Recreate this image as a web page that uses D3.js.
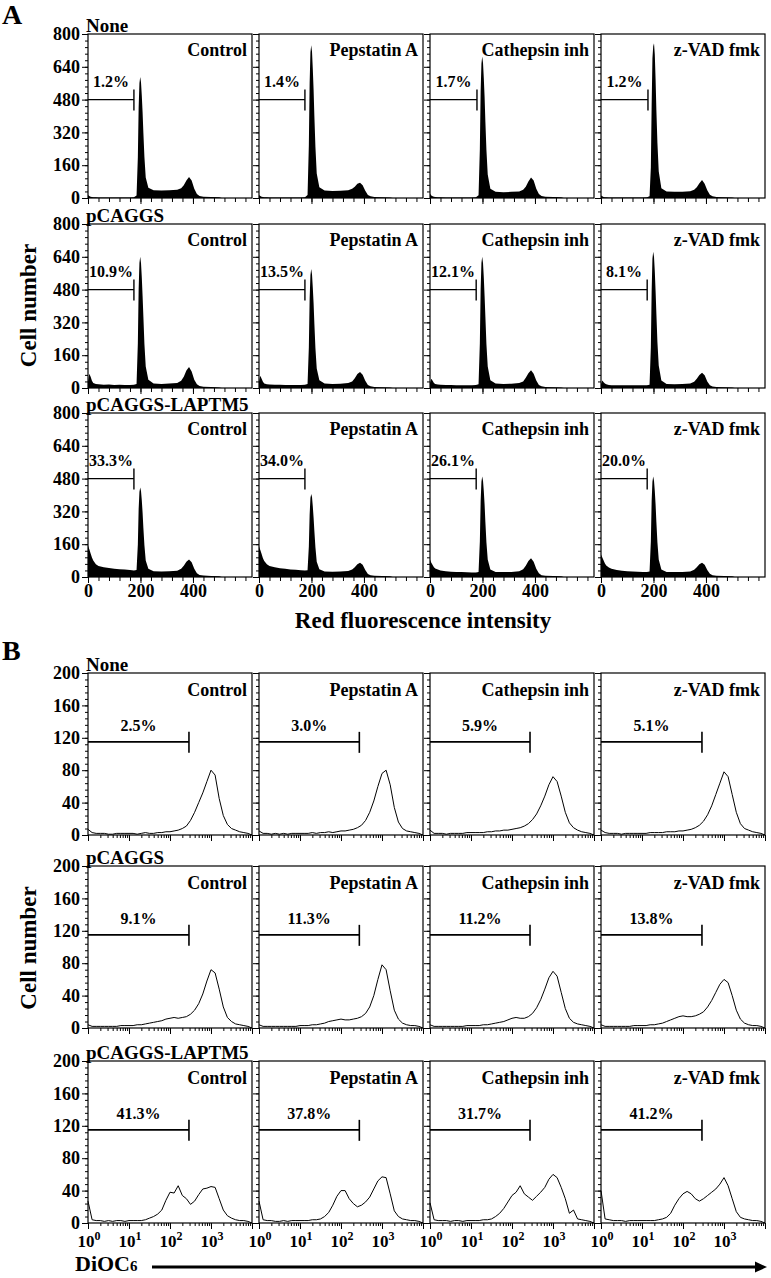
<!DOCTYPE html>
<html><head><meta charset="utf-8">
<script src="https://cdn.jsdelivr.net/npm/d3@7"></script>
<style>
body{margin:0;background:#fff}
svg text{font-family:"Liberation Serif","Times New Roman",serif;font-weight:bold;fill:#000}
</style>
</head><body><script>
// ---------- DATA ----------
const conditions = ["None", "pCAGGS", "pCAGGS-LAPTM5"];
const treatments = ["Control", "Pepstatin A", "Cathepsin inh", "z-VAD fmk"];

// Panel A: cell-cycle (red fluorescence intensity) histograms
const redIntensity = [0,5,10,15,20,30,40,60,80,100,120,140,160,175,185,190,193,196,199,202,205,208,211,215,220,230,250,280,310,340,355,365,375,385,395,405,415,425,440,470,500,510,540,600];
const cellCountNone = [
  [15,10,6,5,4,4,3,3,3,3,3,3,3,4, 12,200,440,560,590,565,500,420,320,200,100,50, 38,36,38,40, 48,62,85,102,85, 45,20,10,6,5, 4,0,0,0],
  [15,10,6,5,4,4,3,3,3,3,3,3,3,4, 15,260,560,710,745,715,630,530,400,250,120,52, 36,34,35,38, 45,55,70,75,62, 35,15,8,5,4, 3,0,0,0],
  [22,12,8,6,5,4,4,3,3,3,3,3,3,4, 14,240,520,655,690,660,585,495,375,235,115,45, 30,28,30,32, 40,55,80,100,85, 45,20,10,6,5, 4,0,0,0],
  [12,8,5,4,4,3,3,3,3,3,3,3,3,4, 8,150,450,680,740,755,700,580,430,270,130,48, 32,30,30,33, 40,52,72,88,70, 38,16,8,5,4, 3,0,0,0]
];
const cellCountPCAGGS = [
  [30,70,55,35,25,20,18,16,17,15,16,15,15,16, 20,220,480,610,640,610,540,450,350,215,105,40, 22,20,22,25, 35,55,85,102,80, 40,18,10,6,5, 3,0,0,0],
  [30,60,45,30,22,18,17,16,16,15,15,15,15,16, 20,200,435,550,580,555,490,415,315,195,95,38, 22,20,21,24, 32,48,68,78,65, 35,15,8,5,4, 3,0,0,0],
  [25,45,35,25,20,17,16,15,15,14,14,14,14,15, 18,220,480,610,640,610,540,450,350,215,105,38, 22,20,21,24, 32,50,72,86,70, 36,15,8,5,4, 3,0,0,0],
  [20,36,28,22,18,15,14,13,13,13,13,13,13,14, 16,200,470,630,665,640,570,475,365,225,110,36, 20,18,19,22, 30,45,64,74,62, 32,14,7,5,4, 3,0,0,0]
];
const cellCountLAPTM5 = [
  [154,135,115,95,80,62,54,48,44,40,38,36,34,32, 34,160,330,415,437,420,375,315,240,155,80,40, 28,27,28,30, 40,55,75,85,72, 40,18,10,7,5, 4,0,0,0],
  [150,132,112,92,78,62,54,47,43,40,37,35,33,32, 33,150,305,385,405,390,345,290,225,145,75,38, 27,26,27,29, 36,48,62,70,60, 34,15,8,6,5, 4,0,0,0],
  [85,70,58,48,42,36,32,28,26,25,24,23,22,22, 24,175,370,465,490,470,420,355,270,170,85,36, 25,24,25,28, 38,55,78,92,75, 40,18,9,6,5, 4,0,0,0],
  [110,95,80,66,56,46,40,34,30,28,27,26,25,25, 27,175,370,465,490,470,420,355,270,170,85,36, 25,24,25,27, 35,48,62,70,60, 34,16,8,6,5, 4,0,0,0]
];
const gateEndA = [[175,175,179,179],[175,175,176,176],[175,175,176,176]];
const gateLevelA = 480;
const pctA = [["1.2%","1.4%","1.7%","1.2%"],["10.9%","13.5%","12.1%","8.1%"],["33.3%","34.0%","26.1%","20.0%"]];
const yTicksA = [0,160,320,480,640,800];
const xTickLabelsA = [0,200,400];

// Panel B: DiOC6 histograms (log10 intensity grid)
const logDiOC6 = [0,0.1,0.2,0.3,0.4,0.5,0.6,0.7,0.8,0.9,1.0,1.1,1.2,1.3,1.4,1.5,1.6,1.7,1.8,1.9,2.0,2.1,2.2,2.3,2.4,2.5,2.6,2.7,2.8,2.9,3.0,3.1,3.2,3.3,3.4,3.5,3.6,3.7,3.8,3.9,4.0];
const dioCountNone = [
  [7,3,2,2,2,1,1,2,2,2,2,2,1,2,3,2,2,3,3,4,4,5,6,8,11,18,28,40,52,66,80,74,45,24,13,8,6,4,3,2,0],
  [5,2,2,1,2,1,2,1,2,2,2,2,2,3,2,3,3,4,3,4,5,5,6,7,9,12,18,28,42,60,76,80,62,34,16,8,5,4,3,2,0],
  [6,2,2,2,1,2,2,2,2,3,3,3,3,3,4,4,5,5,6,6,7,8,9,11,14,19,26,36,48,62,72,66,48,28,15,9,6,4,3,2,0],
  [6,3,2,2,2,1,2,2,2,2,2,2,3,3,3,3,4,4,4,5,5,6,7,9,12,17,25,36,50,64,78,72,50,28,14,8,6,4,3,2,0]
];
const dioCountPCAGGS = [
  [4,2,2,2,2,2,2,2,3,3,3,3,4,4,5,6,7,8,9,11,12,13,12,13,14,17,22,30,42,58,72,68,48,26,13,8,5,4,3,2,0],
  [4,2,2,2,2,2,2,2,2,2,3,3,3,4,4,5,6,8,9,10,11,10,10,11,12,14,18,26,40,60,78,72,46,22,11,6,4,3,3,2,0],
  [4,2,2,2,2,2,2,2,2,3,3,3,3,4,4,5,6,7,8,10,12,13,12,12,14,18,25,35,48,62,70,64,44,24,12,7,5,4,3,2,0],
  [4,2,2,2,2,2,2,2,3,3,3,3,4,4,5,6,8,10,12,14,15,14,14,15,17,20,26,34,44,54,60,56,40,22,11,6,4,3,3,2,0]
];
const dioCountLAPTM5 = [
  [27,4,3,3,2,3,2,3,3,2,3,3,3,3,4,6,8,11,16,28,38,37,46,34,30,23,27,35,42,43,45,44,30,16,9,6,4,3,3,2,0],
  [27,4,3,3,2,2,3,2,3,3,3,3,3,4,4,5,8,13,22,33,40,40,30,24,20,22,26,32,42,52,57,56,36,15,8,5,4,3,3,2,0],
  [25,4,3,3,3,2,3,3,2,3,3,3,3,4,4,5,8,12,18,26,34,38,46,36,32,28,33,38,44,54,60,56,44,30,12,16,5,4,3,2,0],
  [40,5,4,3,3,3,2,3,3,3,3,3,3,3,4,5,7,12,22,30,36,39,36,30,27,30,34,38,42,48,56,46,30,14,7,5,4,3,3,2,0]
];
const gateEndB = [[290,280,275,290],[290,280,275,290],[290,280,275,290]];
const gateLevelB = 115;
const pctB = [["2.5%","3.0%","5.9%","5.1%"],["9.1%","11.3%","11.2%","13.8%"],["41.3%","37.8%","31.7%","41.2%"]];
const yTicksB = [0,40,80,120,160,200];
const xDecadesB = [0,1,2,3];

// ---------- LAYOUT ----------
const FONT = '"Liberation Serif","Times New Roman",serif';
const colX = [88, 259, 430, 601];
const PW = 164;
const rowYA = [34, 224, 413], PHA = 164;
const rowYB = [673, 866, 1061], PHB = 162;

const svg = d3.select("body").append("svg").attr("width", 771).attr("height", 1278)
  .attr("font-family", FONT).attr("font-weight", "bold");

const xA = d3.scaleLinear().domain([0, 625]).range([0, PW]);
const yA = d3.scaleLinear().domain([0, 800]).range([PHA, 0]);
const xB = d3.scaleLog().domain([1, 10000]).range([0, PW]);
const yB = d3.scaleLinear().domain([0, 200]).range([PHB, 0]);

function styleAxis(g) {
  g.select(".domain").remove();
  g.attr("font-family", null).attr("font-size", null);
  g.selectAll(".tick line").attr("stroke", "#000").attr("stroke-width", 1);
}

const dataA = [cellCountNone, cellCountPCAGGS, cellCountLAPTM5];
const dataB = [dioCountNone, dioCountPCAGGS, dioCountLAPTM5];

// ----- Panel A -----
dataA.forEach((rowData, r) => {
  svg.append("text").attr("x", 86).attr("y", rowYA[r] - 2).attr("font-size", 19).text(conditions[r]);
  rowData.forEach((vals, c) => {
    const g = svg.append("g").attr("transform", `translate(${colX[c]},${rowYA[r]})`);
    g.append("g").call(d3.axisLeft(yA).tickValues(d3.range(0, 801, 32)).tickSize(3).tickFormat("")).call(styleAxis);
    g.append("g").call(d3.axisLeft(yA).tickValues(yTicksA).tickSize(6).tickPadding(2)
      .tickFormat(c === 0 ? d3.format("d") : "")).call(styleAxis)
      .selectAll("text").attr("font-size", 18);
    const xg = g.append("g").attr("transform", `translate(0,${PHA})`);
    xg.append("g").call(d3.axisBottom(xA).tickValues(d3.range(0, 601, 40)).tickSize(4).tickFormat("")).call(styleAxis);
    xg.append("g").call(d3.axisBottom(xA).tickValues(xTickLabelsA).tickSize(6).tickPadding(1)
      .tickFormat(r === 2 ? d3.format("d") : "")).call(styleAxis)
      .selectAll("text").attr("font-size", 18);
    const area = d3.area().x((d, i) => xA(redIntensity[i])).y0(PHA).y1(d => yA(d));
    g.append("path").datum(vals).attr("d", area).attr("fill", "#000");
    g.append("rect").attr("width", PW).attr("height", PHA).attr("fill", "none").attr("stroke", "#000").attr("stroke-width", 1.2);
    g.append("text").attr("x", PW - 5).attr("y", 22).attr("text-anchor", "end").attr("font-size", 18).text(treatments[c]);
    const gy = yA(gateLevelA), gx = xA(gateEndA[r][c]);
    g.append("line").attr("x1", 0).attr("x2", gx).attr("y1", gy).attr("y2", gy).attr("stroke", "#000").attr("stroke-width", 1.2);
    g.append("line").attr("x1", gx).attr("x2", gx).attr("y1", gy - 10).attr("y2", gy + 11).attr("stroke", "#000").attr("stroke-width", 1.4);
    g.append("text").attr("x", gx / 2).attr("y", gy - 13).attr("text-anchor", "middle").attr("font-size", 16).text(pctA[r][c]);
  });
});
svg.append("text").attr("x", 2).attr("y", 24).attr("font-size", 28).text("A");
svg.append("text").attr("transform", `translate(36,${(rowYA[0] + rowYA[2] + PHA) / 2}) rotate(-90)`)
  .attr("text-anchor", "middle").attr("font-size", 23).text("Cell number");
svg.append("text").attr("x", 423).attr("y", 628).attr("text-anchor", "middle").attr("font-size", 23).text("Red fluorescence intensity");

// ----- Panel B -----
const minorLog = [];
[0,1,2,3].forEach(d => { for (let k = 1; k < 10; k++) minorLog.push(k * Math.pow(10, d)); });
minorLog.push(10000);
dataB.forEach((rowData, r) => {
  svg.append("text").attr("x", 86).attr("y", rowYB[r] - 2).attr("font-size", 19).text(conditions[r]);
  rowData.forEach((vals, c) => {
    const g = svg.append("g").attr("transform", `translate(${colX[c]},${rowYB[r]})`);
    g.append("g").call(d3.axisLeft(yB).tickValues(d3.range(0, 201, 8)).tickSize(3).tickFormat("")).call(styleAxis);
    g.append("g").call(d3.axisLeft(yB).tickValues(yTicksB).tickSize(6).tickPadding(2)
      .tickFormat(c === 0 ? d3.format("d") : "")).call(styleAxis)
      .selectAll("text").attr("font-size", 18);
    const xg = g.append("g").attr("transform", `translate(0,${PHB})`);
    xg.append("g").call(d3.axisBottom(xB).tickValues(minorLog).tickSize(3).tickFormat("")).call(styleAxis);
    xg.append("g").call(d3.axisBottom(xB).tickValues([1,10,100,1000,10000]).tickSize(6).tickFormat("")).call(styleAxis);
    if (r === 2) {
      xDecadesB.forEach(dd => {
        const t = xg.append("text").attr("x", xB(Math.pow(10, dd)) + 1).attr("y", 24).attr("text-anchor", "middle").attr("font-size", 17);
        t.append("tspan").text("10");
        t.append("tspan").attr("dy", -7).attr("font-size", 12).text(String(dd));
      });
    }
    const line = d3.line().x((d, i) => xB(Math.pow(10, logDiOC6[i]))).y(d => yB(d));
    g.append("path").datum(vals).attr("d", line).attr("fill", "none").attr("stroke", "#000").attr("stroke-width", 1);
    g.append("rect").attr("width", PW).attr("height", PHB).attr("fill", "none").attr("stroke", "#000").attr("stroke-width", 1.2);
    g.append("text").attr("x", PW - 5).attr("y", 23).attr("text-anchor", "end").attr("font-size", 18).text(treatments[c]);
    const gy = yB(gateLevelB), gx = xB(gateEndB[r][c]);
    g.append("line").attr("x1", 0).attr("x2", gx).attr("y1", gy).attr("y2", gy).attr("stroke", "#000").attr("stroke-width", 1.6);
    g.append("line").attr("x1", gx).attr("x2", gx).attr("y1", gy - 10).attr("y2", gy + 11).attr("stroke", "#000").attr("stroke-width", 1.6);
    g.append("text").attr("x", gx / 2).attr("y", gy - 11).attr("text-anchor", "middle").attr("font-size", 16).text(pctB[r][c]);
  });
});
svg.append("text").attr("x", 2).attr("y", 660).attr("font-size", 28).text("B");
svg.append("text").attr("transform", `translate(36,${(rowYB[0] + rowYB[2] + PHB) / 2}) rotate(-90)`)
  .attr("text-anchor", "middle").attr("font-size", 23).text("Cell number");
const dio = svg.append("text").attr("x", 75).attr("y", 1271).attr("font-size", 22);
dio.append("tspan").text("DiOC");
dio.append("tspan").attr("font-size", 15).text("6");
svg.append("line").attr("x1", 152).attr("x2", 758).attr("y1", 1267).attr("y2", 1267).attr("stroke", "#000").attr("stroke-width", 3);
svg.append("path").attr("d", "M767,1267 L755,1261.5 L755,1272.5 Z").attr("fill", "#000");
</script></body></html>
